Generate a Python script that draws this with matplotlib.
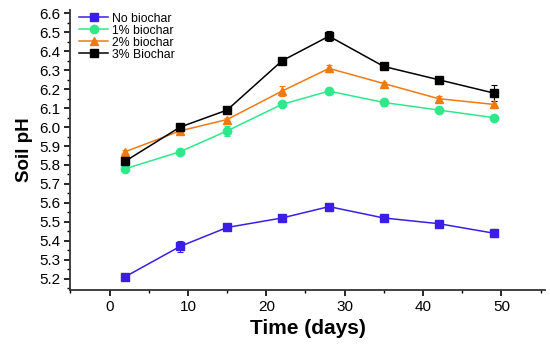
import matplotlib

matplotlib.use("Agg")
import matplotlib.pyplot as plt  # noqa: E402
from matplotlib.lines import Line2D  # noqa: E402
from matplotlib.ticker import FormatStrFormatter, MultipleLocator  # noqa: E402

plt.rcParams["font.family"] = ["Liberation Sans", "DejaVu Sans"]

# ---------------- data ----------------
days = [2, 9, 15, 22, 28, 35, 42, 49]
no_biochar = [5.21, 5.37, 5.47, 5.52, 5.58, 5.52, 5.49, 5.44]
no_biochar_err = [0.01, 0.03, 0.01, 0.015, 0.015, 0.015, 0.02, 0.02]
biochar_1 = [5.78, 5.87, 5.98, 6.12, 6.19, 6.13, 6.09, 6.05]
biochar_1_err = [0.01, 0.01, 0.025, 0.01, 0.015, 0.02, 0.01, 0.01]
biochar_2 = [5.87, 5.98, 6.04, 6.19, 6.31, 6.23, 6.15, 6.12]
biochar_2_err = [0.01, 0.01, 0.01, 0.025, 0.02, 0.01, 0.015, 0.02]
biochar_3 = [5.82, 6.00, 6.09, 6.35, 6.48, 6.32, 6.25, 6.18]
biochar_3_err = [0.01, 0.01, 0.01, 0.01, 0.025, 0.015, 0.01, 0.04]

SERIES = [
    ("No biochar", no_biochar, no_biochar_err, "#3a1ee6", "s"),
    ("1% biochar", biochar_1, biochar_1_err, "#2ee88a", "o"),
    ("2% biochar", biochar_2, biochar_2_err, "#f07a12", "^"),
    ("3% Biochar", biochar_3, biochar_3_err, "#000000", "s"),
]

# ---------------- figure ----------------
fig = plt.figure(figsize=(5.5, 3.46), dpi=100)
ax = fig.add_axes([0.128, 0.162, 0.862, 0.81])

handles = []
for label, vals, err, color, marker in SERIES:
    ax.errorbar(days, vals, yerr=err, color=color, marker=marker, markersize=6,
                linewidth=1.1, elinewidth=0.8, capsize=2.5, capthick=0.8, ecolor=color)
    handles.append(Line2D([], [], color=color, marker=marker, markersize=6,
                          linewidth=1.1, label=label))

ax.set_xlim(-5, 55.5)
ax.set_ylim(5.14, 6.62)
ax.xaxis.set_major_locator(MultipleLocator(10))
ax.xaxis.set_minor_locator(MultipleLocator(5))
ax.yaxis.set_major_locator(MultipleLocator(0.1))
ax.yaxis.set_minor_locator(MultipleLocator(0.05))
ax.yaxis.set_major_formatter(FormatStrFormatter("%.1f"))
ax.tick_params(which="major", direction="out", length=4, width=1.2, labelsize=11)
ax.tick_params(which="minor", direction="out", length=2.5, width=1)
for s in ("top", "right"):
    ax.spines[s].set_visible(False)
for s in ("left", "bottom"):
    ax.spines[s].set_linewidth(1.3)
    ax.spines[s].set_color("#333333")

ax.set_xlabel("Time (days)", fontsize=15, fontweight="bold", labelpad=3)
ax.set_ylabel("Soil pH", fontsize=13.5, fontweight="bold", labelpad=4)

ax.legend(handles=handles, loc="upper left", bbox_to_anchor=(0.0, 1.02), frameon=False,
          fontsize=8.8, handlelength=2.4, labelspacing=0.0, borderaxespad=0.3,
          handletextpad=0.3)

fig.savefig("out.png", dpi=100)
